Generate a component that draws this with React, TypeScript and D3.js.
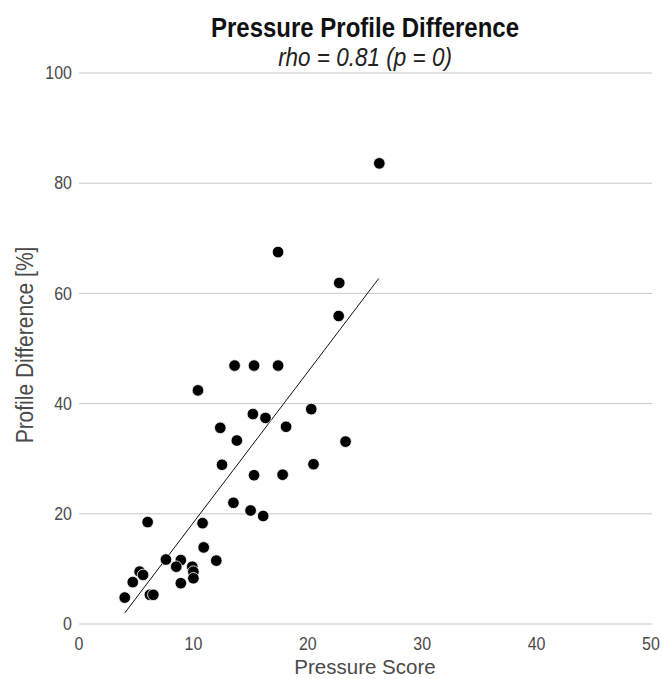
import React from "react";
import * as d3 from "d3";

const pressureScore = [26.25, 17.4, 22.75, 22.7, 13.6, 15.3, 17.4, 10.4, 20.3, 15.2, 16.3, 12.35, 18.1, 13.8, 23.3, 12.5, 20.5, 15.3, 17.8, 13.5, 15.0, 16.1, 6.0, 10.8, 10.9, 12.0, 7.6, 8.9, 8.5, 9.9, 10.0, 10.0, 8.9, 5.3, 5.6, 4.7, 4.0, 6.2, 6.5];
const profileDiff = [83.6, 67.5, 61.9, 55.9, 46.9, 46.9, 46.9, 42.4, 39.0, 38.1, 37.4, 35.6, 35.8, 33.3, 33.1, 28.9, 29.0, 27.0, 27.1, 22.0, 20.6, 19.6, 18.5, 18.3, 13.9, 11.5, 11.7, 11.6, 10.4, 10.4, 9.5, 8.3, 7.4, 9.5, 8.9, 7.6, 4.8, 5.3, 5.3];
const fitX = [4.0, 26.2];
const fitY = [2.0, 62.7];
const xTicks = [0, 10, 20, 30, 40, 50];
const yTicks = [0, 20, 40, 60, 80, 100];
const title = "Pressure Profile Difference";
const subtitle = "rho = 0.81 (p = 0)";
const xLabel = "Pressure Score";
const yLabel = "Profile Difference [%]";

export default function App() {
  const W = 662, H = 679;
  const left = 79, right = 651, top = 73, bottom = 624;
  const x = d3.scaleLinear().domain([0, 50]).range([left, right]);
  const y = d3.scaleLinear().domain([0, 100]).range([bottom, top]);
  const font = "'Liberation Sans', Arial, Helvetica, sans-serif";
  const line = d3.line<number>().x((d, i) => x(fitX[i])).y((d, i) => y(fitY[i]));
  const cx = (left + right) / 2;
  const sy = 1.12;
  return (
    <svg width={W} height={H} style={{ position: "absolute", left: 0, top: 0, background: "#fff" }} fontFamily={font}>
      <rect width={W} height={H} fill="#fff" />
      {yTicks.map((t) => (
        <g key={t}>
          <line x1={left} x2={right + 1} y1={y(t)} y2={y(t)} stroke="#c8c8c8" strokeWidth={1} />
          <text transform={`translate(72,${y(t)}) scale(1,${sy})`} dy="0.35em" textAnchor="end" fontSize={16} fill="#4a4a4a">{t}</text>
        </g>
      ))}
      {xTicks.map((t) => (
        <text key={t} transform={`translate(${x(t)},650) scale(1,${sy})`} textAnchor="middle" fontSize={16} fill="#4a4a4a">{t}</text>
      ))}
      <path d={line(fitX) || ""} stroke="#111" strokeWidth={1} fill="none" />
      {pressureScore.map((v, i) => (
        <circle key={i} cx={x(v)} cy={y(profileDiff[i])} r={5.8} fill="#000" stroke="#fff" strokeWidth={0.8} />
      ))}
      <text transform={`translate(${cx},37) scale(1,${sy})`} textAnchor="middle" fontSize={24} fontWeight="bold" fill="#111">{title}</text>
      <text transform={`translate(${cx},66) scale(1,${sy})`} textAnchor="middle" fontSize={22.5} fontStyle="italic" fill="#222">{subtitle}</text>
      <text x={cx} y={674} textAnchor="middle" fontSize={20.5} fill="#4a4a4a">{xLabel}</text>
      <text transform={`translate(33,${(top + bottom) / 2 - 3.5}) rotate(-90) scale(1,${sy})`} textAnchor="middle" fontSize={21} fill="#4a4a4a">{yLabel}</text>
    </svg>
  );
}
